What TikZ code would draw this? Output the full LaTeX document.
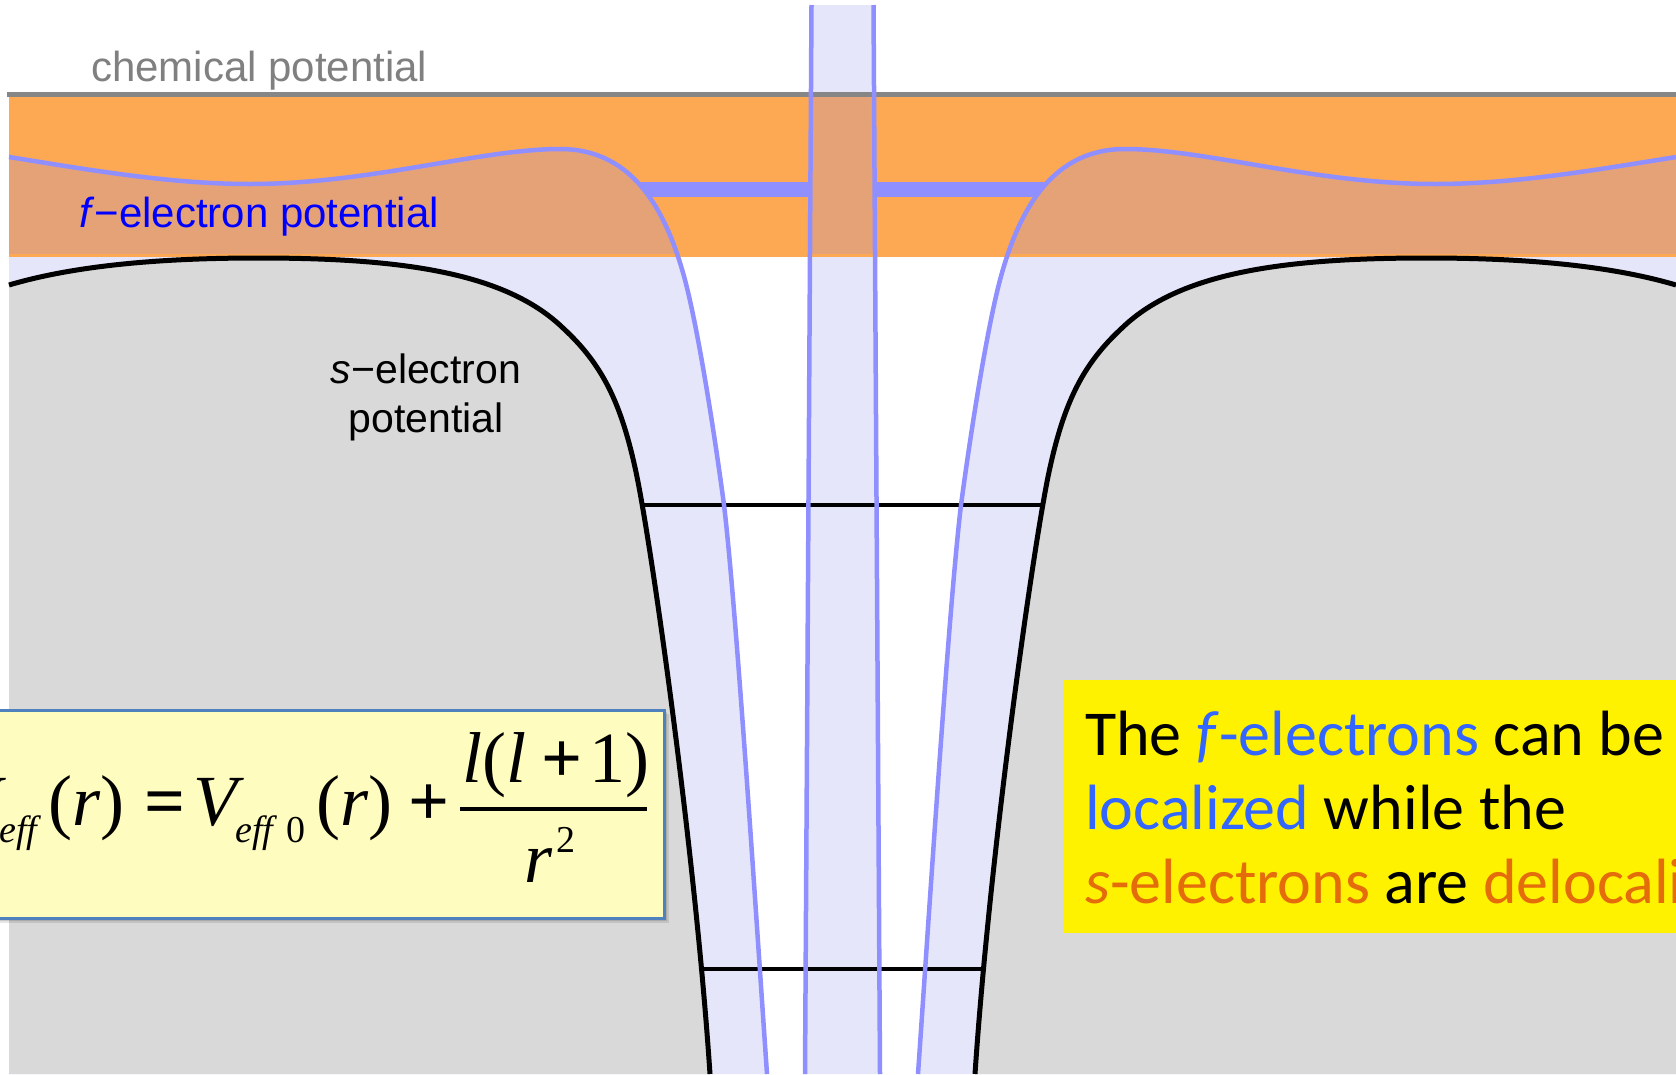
\documentclass[tikz,border=0pt]{standalone}
\usepackage{fontspec}
\setmainfont{Liberation Sans}
\newfontfamily\tnr{Liberation Serif}
\newfontfamily\calib{Carlito}
\definecolor{orangeband}{RGB}{253,169,84}
\definecolor{salmonf}{RGB}{230,162,119}
\definecolor{lav}{RGB}{230,230,250}
\definecolor{sgray}{RGB}{217,217,217}
\definecolor{fblue}{RGB}{143,143,255}
\definecolor{chemgray}{RGB}{134,134,134}
\definecolor{txtgray}{RGB}{128,128,128}
\definecolor{eqfill}{RGB}{255,252,191}
\definecolor{eqborder}{RGB}{79,129,189}
\definecolor{tblue}{RGB}{51,102,255}
\definecolor{torange}{RGB}{228,108,10}
\def\fcurve{(9,157) .. controls (90,170) and (170,184) .. (250,184) .. controls (370,184) and (480,149) .. (560,149) .. controls (630,149) and (665,205) .. (685,280) .. controls (698,329) and (714,430) .. (724,505) .. controls (736,605) and (755,900) .. (767,1074)}
\def\scurve{(9,285) .. controls (80,264) and (170,258) .. (258,258) .. controls (400,258) and (505,272) .. (563,328) .. controls (602,364) and (621,402) .. (636,472) .. controls (651,542) and (695,850) .. (710,1074)}
\def\stripe{(811.5,5) -- (873.5,5) -- (880,1074) -- (805,1074) -- cycle}
\begin{document}
\begin{tikzpicture}[x=1pt,y=-1pt,
  lbl/.style={anchor=base west, inner sep=0pt, font=\fontsize{42}{50}\selectfont},
  slbl/.style={anchor=base, inner sep=0pt, font=\fontsize{41}{49}\selectfont},
  eqtxt/.style={anchor=base west, inner sep=0pt, font=\tnr\fontsize{72}{72}\selectfont},
  eqsub/.style={anchor=base west, inner sep=0pt, font=\tnr\fontsize{38}{38}\selectfont},
  ytxt/.style={anchor=base west, inner sep=0pt, font=\calib\fontsize{64}{75}\selectfont},
  fline/.style={draw=fblue, line width=4.5pt},
  sline/.style={draw=black, line width=5pt},
  mirror/.style={xshift=1685pt, xscale=-1}]
\useasboundingbox (0,0) rectangle (1676,1074);
\clip (0,0) rectangle (1676,1074);
% lavender f regions
\fill[lav] \fcurve -- (9,1074) -- cycle;
\begin{scope}[mirror]\fill[lav] \fcurve -- (9,1074) -- cycle;\end{scope}
\fill[lav] \stripe;
% orange band
\fill[orangeband] (9,97) rectangle (1676,257);
% thick f level bar
\fill[fblue] (600,182) rectangle (1085,197);
% salmon overlap
\begin{scope}
  \clip (9,97) rectangle (1676,253.5);
  \fill[salmonf] \fcurve -- (9,1074) -- cycle;
  \begin{scope}[mirror]\fill[salmonf] \fcurve -- (9,1074) -- cycle;\end{scope}
  \fill[salmonf] \stripe;
\end{scope}
% s potential
\fill[sgray] \scurve -- (9,1074) -- cycle;
\draw[sline] \scurve;
\begin{scope}[mirror]
  \fill[sgray] \scurve -- (9,1074) -- cycle;
  \draw[sline] \scurve;
\end{scope}
% s levels
\draw[sline, line width=4.5pt] (642,505) -- (1043,505);
\draw[sline, line width=4.5pt] (701.4,969) -- (983.6,969);
% chemical potential line
\draw[chemgray, line width=4.5pt] (7,94.5) -- (1676,94.5);
% f curves
\draw[fline] \fcurve;
\begin{scope}[mirror]\draw[fline] \fcurve;\end{scope}
\draw[fline] (811.5,5) -- (805,1074);
\draw[fline] (873.5,5) -- (880,1074);
% labels
\node[lbl, text=txtgray] (chem) at (91,81) {chemical potential};
\node[lbl, text=blue] (flab) at (79,227) {\textit{f}−electron potential};
\node[slbl] (slab1) at (426,383) {\textit{s}−electron};
\node[slbl] (slab2) at (426,432) {potential};
% formula box
\fill[black, opacity=0.10] (-5,714) rectangle (669,923);
\fill[black, opacity=0.12] (-5,712) rectangle (667,921);
\fill[black, opacity=0.15] (-5,711) rectangle (665,919);
\node[draw=eqborder, fill=eqfill, line width=2.5pt, minimum width=668pt, minimum height=208pt, anchor=north west, inner sep=0pt] (eqbox) at (-5,709) {};
\node[eqtxt] (v1) at (-45,825) {\textit{V}};
\node[eqsub] (e1) at (-1,842) {\textit{eff}};
\node[eqtxt] (r1) at (48.5,825) {(\textit{r})};
\node[eqtxt] (eq) at (144.5,825) {\textbf{=}};
\node[eqtxt] (v2) at (193,825) {\textit{V}};
\node[eqsub] (e2) at (235,842) {\textit{eff}};
\node[eqsub] (z2) at (286,842) {0};
\node[eqtxt] (r2) at (316.5,825) {(\textit{r})};
\node[eqtxt] (pl) at (408,825) {\textbf{+}};
\node[eqtxt] (num) at (462,782) {\textit{l}(\textit{l}\hspace{15pt}\textbf{+}\hspace{7.4pt}1)};
\draw[line width=4pt] (460,808.5) -- (647,808.5);
\node[eqtxt] (den) at (524,882) {\textit{r}};
\node[eqsub] (sq) at (556,852) {2};
% yellow text box
\node[fill=yellow, minimum width=700pt, minimum height=253pt, anchor=north west, inner sep=0pt] (ybox) at (1064,680) {};
\node[ytxt] (y1) at (1085,755) {The \textcolor{tblue}{\textit{f}-electrons} can be};
\node[ytxt] (y2) at (1085,829) {\textcolor{tblue}{localized} while the};
\node[ytxt] (y3) at (1085,903) {\textcolor{torange}{\textit{s}-electrons} are \textcolor{torange}{delocalized}};
\end{tikzpicture}
\end{document}
